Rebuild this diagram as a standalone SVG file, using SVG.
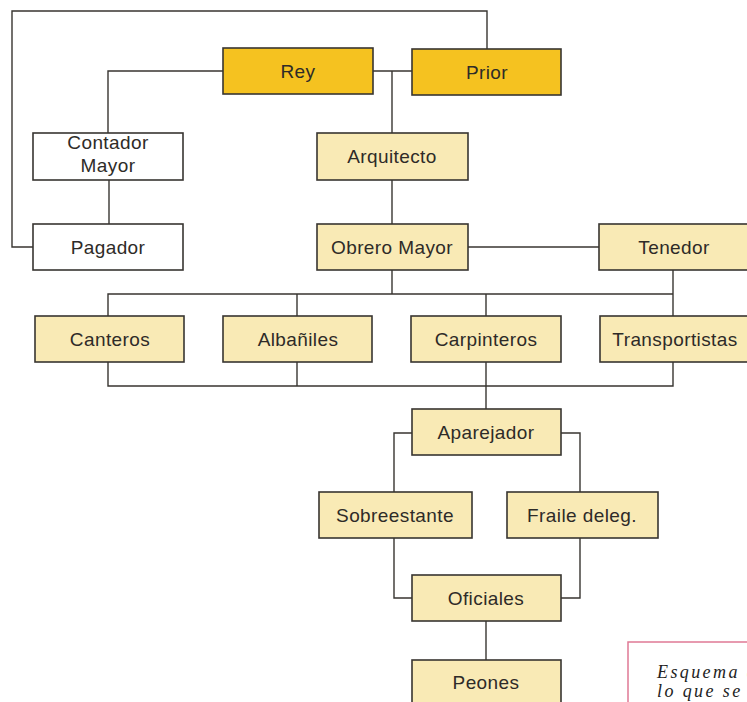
<svg xmlns="http://www.w3.org/2000/svg" width="747" height="702" viewBox="0 0 747 702">
<style>
.box{stroke:#383531;stroke-width:1.6}
.gold{fill:#f5c220}
.cream{fill:#f9eab5}
.white{fill:#ffffff}
.lbl{font-family:"Liberation Sans",Arial,sans-serif;font-size:19px;letter-spacing:0.4px;fill:#2e2b28;text-anchor:middle}
.con{fill:none;stroke:#383531;stroke-width:1.4}
.cap{font-family:"Liberation Serif","Times New Roman",serif;font-style:italic;font-size:18px;letter-spacing:2.4px;fill:#222}
</style>
<rect width="747" height="702" fill="#ffffff"/>
<g id="connectors">
<path class="con" d="M487,49 V11 H12 V247 H33"/>
<path class="con" d="M223,71 H108 V133"/>
<path class="con" d="M109,180 V224"/>
<path class="con" d="M373,71 H412"/>
<path class="con" d="M392,71 V133"/>
<path class="con" d="M392,180 V224"/>
<path class="con" d="M468,247 H599"/>
<path class="con" d="M392,270 V294"/>
<path class="con" d="M673,270 V316"/>
<path class="con" d="M108,316 V294 H673"/>
<path class="con" d="M297,294 V316"/>
<path class="con" d="M486,294 V316"/>
<path class="con" d="M108,362 V386 H673 V362"/>
<path class="con" d="M297,362 V386"/>
<path class="con" d="M486,362 V409"/>
<path class="con" d="M412,433 H394 V492"/>
<path class="con" d="M561,433 H580 V492"/>
<path class="con" d="M394,538 V598 H412"/>
<path class="con" d="M580,538 V598 H561"/>
<path class="con" d="M486,621 V660"/>
</g>
<g id="rey"><rect class="box gold" x="223" y="48" width="150" height="46"/><text class="lbl" x="298" y="78">Rey</text></g>
<g id="prior"><rect class="box gold" x="412" y="49" width="149" height="46"/><text class="lbl" x="487" y="79">Prior</text></g>
<g id="contador"><rect class="box white" x="33" y="133" width="150" height="47"/><text class="lbl" x="108" y="149">Contador</text><text class="lbl" x="108" y="172">Mayor</text></g>
<g id="pagador"><rect class="box white" x="33" y="224" width="150" height="46"/><text class="lbl" x="108" y="254">Pagador</text></g>
<g id="arquitecto"><rect class="box cream" x="317" y="133" width="151" height="47"/><text class="lbl" x="392" y="163">Arquitecto</text></g>
<g id="obrero"><rect class="box cream" x="317" y="224" width="151" height="46"/><text class="lbl" x="392" y="254">Obrero Mayor</text></g>
<g id="tenedor"><rect class="box cream" x="599" y="224" width="150" height="46"/><text class="lbl" x="674" y="254">Tenedor</text></g>
<g id="canteros"><rect class="box cream" x="35" y="316" width="149" height="46"/><text class="lbl" x="110" y="346">Canteros</text></g>
<g id="albaniles"><rect class="box cream" x="223" y="316" width="149" height="46"/><text class="lbl" x="298" y="346">Albañiles</text></g>
<g id="carpinteros"><rect class="box cream" x="411" y="316" width="150" height="46"/><text class="lbl" x="486" y="346">Carpinteros</text></g>
<g id="transportistas"><rect class="box cream" x="600" y="316" width="150" height="46"/><text class="lbl" x="675" y="346">Transportistas</text></g>
<g id="aparejador"><rect class="box cream" x="412" y="409" width="149" height="46"/><text class="lbl" x="486" y="439">Aparejador</text></g>
<g id="sobreestante"><rect class="box cream" x="319" y="492" width="153" height="46"/><text class="lbl" x="395" y="522">Sobreestante</text></g>
<g id="fraile"><rect class="box cream" x="507" y="492" width="151" height="46"/><text class="lbl" x="582" y="522">Fraile deleg.</text></g>
<g id="oficiales"><rect class="box cream" x="412" y="575" width="149" height="46"/><text class="lbl" x="486" y="605">Oficiales</text></g>
<g id="peones"><rect class="box cream" x="412" y="660" width="149" height="46"/><text class="lbl" x="486" y="689">Peones</text></g>
<g id="caption"><rect x="628" y="642" width="130" height="70" fill="#ffffff" stroke="#e07a95" stroke-width="1.5"/><text class="cap" x="657" y="678">Esquema d</text><text class="cap" x="657" y="697">lo que se t</text></g>
</svg>
